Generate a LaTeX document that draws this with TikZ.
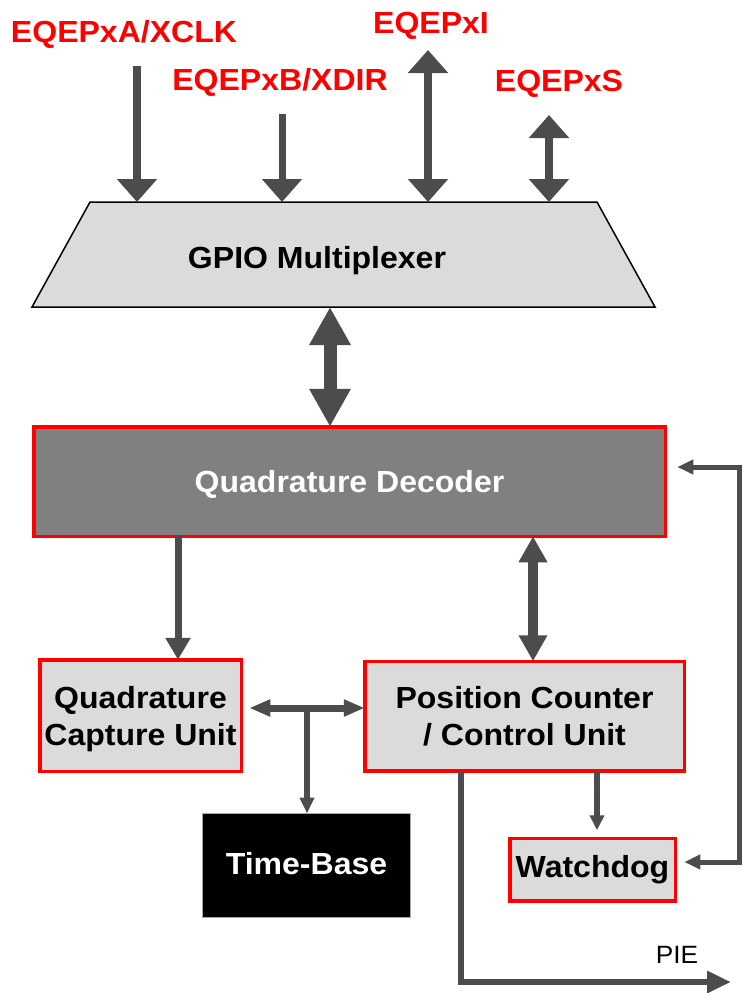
\documentclass[tikz,border=0pt]{standalone}
\usepackage{fontspec}
\setmainfont{Liberation Sans}[FakeStretch=1.05]
\usetikzlibrary{positioning}
\usetikzlibrary{calc}
\usetikzlibrary{arrows.meta}

\begin{document}
\begin{tikzpicture}[x=1pt, y=-1pt]
    \colorlet{wire}{black!70}
\colorlet{panel}{black!14}
\colorlet{decoder}{black!50}
\colorlet{frame}{red}

\newcommand\bigfont{\bfseries\fontsize{30.5}{37}\selectfont}
\newcommand\pinw{39pt}
\newcommand\pinl{23pt}
\newcommand\slant{58pt}

\useasboundingbox (0, 0) rectangle (742, 993);

\begin{scope}
    \tikzset{
        block/.style={
            draw=frame, fill=panel, line width=3.5pt,
            rectangle, inner sep=0pt, outer sep=0pt,
            align=center, font=\bigfont,
        },
        mux/.style={
            draw=black, fill=panel, line width=1.5pt,
        },
        pin/.style={
            text=frame, font=\bigfont, anchor=base,
        },
    }

    \node[pin] at (124, 42) (pin-a) {EQEPxA/XCLK};
    \node[pin] at (280, 90) (pin-b) {EQEPxB/XDIR};
    \node[pin] at (431, 33) (pin-i) {EQEPxI};
    \node[pin] at (559, 91) (pin-s) {EQEPxS};

    \node[rectangle, inner sep=0pt, outer sep=0pt,
        minimum width=623pt, minimum height=105pt]
        at (343.5, 254.5) (gpio) {};
    \filldraw[mux]
        ([xshift=\slant]gpio.north west) -- ([xshift=-\slant]gpio.north east)
        -- (gpio.south east) -- (gpio.south west) -- cycle;
    \node[font=\bigfont, anchor=base] at (317, 268) (gpio-text) {GPIO Multiplexer};

    \node[block, fill=decoder, text=white, text depth=-3pt,
        minimum width=631.5pt, minimum height=109.5pt]
        at (349.5, 481.5) (qd) {Quadrature Decoder};

    \node[block, text depth=-5pt, minimum width=201.5pt, minimum height=111.5pt]
        at (140.5, 715.5) (qcu) {Quadrature\\Capture Unit};
    \node[block, text depth=-5pt, minimum width=319.5pt, minimum height=109.5pt]
        at (524.5, 716) (pccu) {Position Counter\\/ Control Unit};

    \node[block, draw=black!35, fill=black, text=white, line width=1.5pt,
        text depth=4pt, minimum width=208pt, minimum height=104pt]
        at (306.5, 865.5) (tb) {Time-Base};
    \node[block, minimum width=165.5pt, minimum height=62.5pt]
        at (592.5, 869.5) (wdog) {Watchdog};

    \node[font=\fontsize{25}{30}\selectfont] at (677, 955) (pie) {PIE};
\end{scope}

    % pins into the multiplexer
    \coordinate (a-top) at (137, 66);
    \coordinate (b-top) at (282, 114);
    \coordinate (i-top) at (428, 50);
    \coordinate (s-top) at (549, 115);

    \draw[wire, line width=8pt, -{Triangle[width=\pinw, length=\pinl]}]
        (a-top) -- (a-top |- gpio.north);
    \draw[wire, line width=7pt, -{Triangle[width=\pinw, length=\pinl]}]
        (b-top) -- (b-top |- gpio.north);
    \draw[wire, line width=7.5pt,
        {Triangle[width=\pinw, length=\pinl]}-{Triangle[width=\pinw, length=\pinl]}]
        (i-top) -- (i-top |- gpio.north);
    \draw[wire, line width=7.5pt,
        {Triangle[width=\pinw, length=\pinl]}-{Triangle[width=\pinw, length=\pinl]}]
        (s-top) -- (s-top |- gpio.north);

    \coordinate (dec-io) at ([xshift=-19.5pt]qd.north);
    \draw[wire, line width=13pt,
        {Triangle[width=39pt, length=38pt]}-{Triangle[width=39pt, length=38pt]}]
        (gpio.south -| dec-io) -- (dec-io);

    \coordinate (cap-in) at ([xshift=37.5pt]qcu.north);
    \draw[wire, line width=7pt, -{Triangle[width=24pt, length=22pt]}]
        (qd.south -| cap-in) -- (cap-in);

    \coordinate (pos-io) at ([xshift=8.5pt]pccu.north);
    \draw[wire, line width=9.5pt,
        {Triangle[width=27pt, length=26pt]}-{Triangle[width=27pt, length=26pt]}]
        (qd.south -| pos-io) -- (pos-io);

    % shared time-base bus
    \coordinate (tee) at (307, 708);
    \draw[wire, line width=7pt,
        {Triangle[width=16pt, length=21pt]}-{Triangle[width=16pt, length=21pt]}]
        ([xshift=8pt]qcu.east |- tee) -- (pccu.west |- tee);
    \draw[wire, line width=6pt, -{Triangle[width=14pt, length=16pt]}]
        (tee) -- (tee |- tb.north);

    \coordinate (wd-in) at ([shift={(4.5pt, 8pt)}]wdog.north);
    \draw[wire, line width=6pt, -{Triangle[width=14pt, length=15pt]}]
        (pccu.south -| wd-in) -- (wd-in);

    % watchdog feedback and interrupt
    \coordinate (fb-corner) at (739, 862);
    \draw[wire, line width=5pt,
        {Triangle[width=14pt, length=16pt]}-{Triangle[width=14pt, length=16pt]}]
        ([shift={(12pt, 14.5pt)}]qd.east) -| (fb-corner)
        -- ([shift={(9pt, 7.5pt)}]wdog.east);

    \coordinate (pie-end) at (731, 982);
    \draw[wire, line width=6pt, -{Triangle[width=21pt, length=24pt]}]
        ([xshift=-63.5pt]pccu.south) |- (pie-end);
\end{tikzpicture}
\end{document}
